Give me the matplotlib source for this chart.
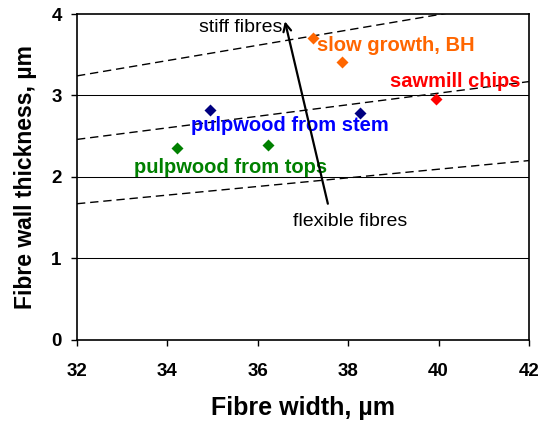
import matplotlib.pyplot as plt

# data points (fibre width, wall thickness)
stem_x = [34.94, 38.26]
stem_y = [2.82, 2.79]
tops_x = [34.21, 36.23]
tops_y = [2.35, 2.39]
slow_x = [37.22, 37.86]
slow_y = [3.71, 3.41]
saw_x = [39.94]
saw_y = [2.96]

# dashed guide lines (x ends, y ends)
guide_x = [32, 42]
guide_top = [3.24, 4.18]
guide_mid = [2.46, 3.17]
guide_low = [1.67, 2.20]

plt.rcParams['font.family'] = ['Liberation Sans', 'DejaVu Sans']

fig = plt.figure(figsize=(5.43, 4.23), dpi=100)
ax = fig.add_axes([0.1418, 0.1969, 0.8324, 0.770])

for yv in [1, 2, 3]:
    ax.axhline(yv, color='black', lw=0.75, zorder=1)

for g in [guide_top, guide_mid, guide_low]:
    ax.plot(guide_x, g, color='black', ls=(0, (6, 3.5)), lw=1.0, zorder=2)

ms = 6.2
ax.plot(stem_x, stem_y, 'D', color='#000080', ms=ms, mec='none', zorder=3)
ax.plot(tops_x, tops_y, 'D', color='#008000', ms=ms, mec='none', zorder=3)
ax.plot(slow_x, slow_y, 'D', color='#FF6600', ms=ms, mec='none', zorder=3)
ax.plot(saw_x, saw_y, 'D', color='#FF0000', ms=ms, mec='none', zorder=3)

ax.annotate('', xy=(36.6, 3.91), xytext=(37.55, 1.67),
            arrowprops=dict(arrowstyle='->', color='black', lw=1.6,
                            mutation_scale=14, shrinkA=0, shrinkB=0), zorder=4)
ax.text(36.54, 3.78, 'stiff fibres', ha='right', va='baseline', fontsize=14)
ax.text(36.78, 1.40, 'flexible fibres', ha='left', va='baseline', fontsize=14)

lab_kw = dict(fontsize=14.5, fontweight='bold', va='baseline', ha='left')
ax.text(37.31, 3.54, 'slow growth, BH', color='#FF6600', **lab_kw)
ax.text(38.92, 3.10, 'sawmill chips', color='#FF0000', clip_on=False, **lab_kw)
ax.text(34.52, 2.56, 'pulpwood from stem', color='#0000FF', **lab_kw)
ax.text(33.26, 2.05, 'pulpwood from tops', color='#008000', **lab_kw)

ax.set_xlim(32, 42)
ax.set_ylim(0, 4)
ax.set_xticks([32, 34, 36, 38, 40, 42])
ax.set_yticks([0, 1, 2, 3, 4])
ax.tick_params(labelsize=13.5, length=4, width=1, direction='out')
ax.tick_params(axis='x', pad=13)
ax.tick_params(axis='y', pad=7)
for lab in ax.get_xticklabels() + ax.get_yticklabels():
    lab.set_fontweight('bold')
for sp in ax.spines.values():
    sp.set_linewidth(1.2)

ax.set_xlabel('Fibre width, µm', fontsize=18, fontweight='bold', labelpad=11)
ax.set_ylabel('Fibre wall thickness, µm', fontsize=16.5, fontweight='bold', labelpad=10)

fig.savefig('out.png', dpi=100)
